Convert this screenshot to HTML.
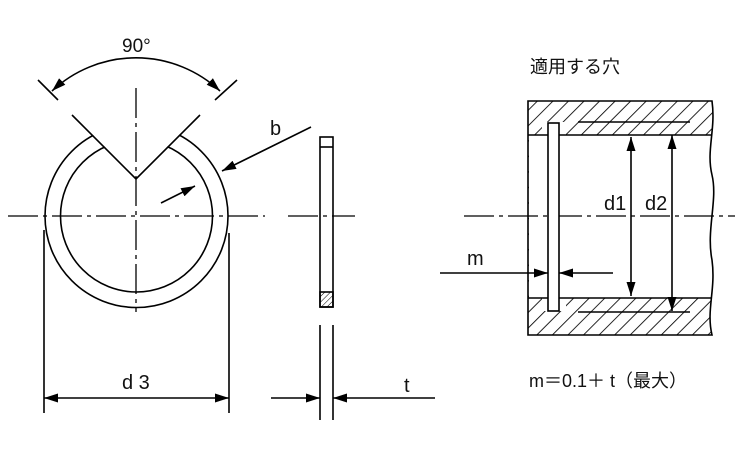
<!DOCTYPE html>
<html><head><meta charset="utf-8"><style>html,body{margin:0;padding:0;background:#fff}svg{display:block}text{font-family:"Liberation Sans","Noto Sans CJK JP",sans-serif;fill:#111}</style></head><body>
<svg width="750" height="450" viewBox="0 0 750 450" xmlns="http://www.w3.org/2000/svg">
<defs>
<marker id="a" viewBox="0 0 14 9" refX="14" refY="4.5" markerWidth="14" markerHeight="9" markerUnits="userSpaceOnUse" orient="auto-start-reverse"><path d="M0,0L14,4.5L0,9z" fill="#000"/></marker>
<pattern id="h" width="11" height="11" patternUnits="userSpaceOnUse" patternTransform="rotate(45)"><line x1="0" y1="0" x2="0" y2="11" stroke="#000" stroke-width="1.7"/></pattern>
<pattern id="h2" width="4" height="4" patternUnits="userSpaceOnUse" patternTransform="rotate(45)"><line x1="0" y1="0" x2="0" y2="4" stroke="#000" stroke-width="1"/></pattern>
</defs>
<g stroke="#000" stroke-width="1.6" fill="none">
<circle cx="136.5" cy="216" r="91.5"/>
<circle cx="136.5" cy="216" r="76"/>
<polygon points="136,178 30,72 242,72" fill="#fff" stroke="none"/>
<polyline points="72,115 136,179 200,115"/>
<line x1="38" y1="80" x2="58" y2="100"/><line x1="237" y1="80" x2="215" y2="100"/>
<path d="M52,91 A123,123 0 0 1 220,91" marker-start="url(#a)" marker-end="url(#a)"/>
<line x1="311" y1="127" x2="222" y2="171" marker-end="url(#a)"/>
<line x1="161" y1="203" x2="195" y2="186" marker-end="url(#a)"/>
<line x1="44" y1="230" x2="44" y2="413"/><line x1="229" y1="233" x2="229" y2="413"/>
<line x1="44" y1="398" x2="229" y2="398" marker-start="url(#a)" marker-end="url(#a)"/>
<rect x="320" y="137" width="13" height="170"/>
<line x1="320" y1="147" x2="333" y2="147"/>
<rect x="320" y="292" width="13" height="15" fill="url(#h2)"/>
<line x1="320" y1="325" x2="320" y2="420"/><line x1="333" y1="325" x2="333" y2="420"/>
<line x1="271" y1="398" x2="320" y2="398" marker-end="url(#a)"/>
<line x1="435" y1="398" x2="333" y2="398" marker-end="url(#a)"/>
<path d="M528,101 L712,101 C716,130 706,150 712,175 C718,200 706,230 712,260 C716,290 706,310 712,335 L528,335 Z" fill="url(#h)" stroke="none"/>
<rect x="529" y="135" width="190" height="163" fill="#fff" stroke="none"/>
<rect x="542" y="122" width="24" height="14" fill="#fff" stroke="none"/>
<rect x="542" y="297" width="24" height="14" fill="#fff" stroke="none"/>
<path d="M528,101 L712,101 C716,130 706,150 712,175 C718,200 706,230 712,260 C716,290 706,310 712,335 L528,335 Z"/>
<line x1="528" y1="135" x2="711" y2="135"/><line x1="528" y1="298" x2="712" y2="298"/>
<g stroke-width="1.3" stroke-dasharray="30,5,4,5">
<line x1="8" y1="216" x2="265" y2="216"/>
<line x1="136" y1="88" x2="136" y2="312"/>
<line x1="288" y1="216" x2="355" y2="216"/>
<line x1="464" y1="216" x2="735" y2="216"/>
</g>
<rect x="548" y="123" width="11" height="188" fill="#fff"/>
<line x1="578" y1="122" x2="690" y2="122"/><line x1="578" y1="312" x2="690" y2="312"/>
<line x1="631" y1="137" x2="631" y2="296" marker-start="url(#a)" marker-end="url(#a)"/>
<line x1="672" y1="135" x2="672" y2="311" marker-start="url(#a)" marker-end="url(#a)"/>
<line x1="440" y1="273" x2="548" y2="273" marker-end="url(#a)"/>
<line x1="613" y1="273" x2="559" y2="273" marker-end="url(#a)"/>
</g>
<text x="122" y="52" font-size="19">90°</text>
<text x="270" y="135" font-size="20">b</text>
<text x="122" y="389" font-size="20">d 3</text>
<text x="404" y="392" font-size="20">t</text>
<text x="530" y="73" font-size="18">適用する穴</text>
<text x="604" y="210" font-size="20">d1</text>
<text x="645" y="210" font-size="20">d2</text>
<text x="467" y="265" font-size="20">m</text>
<text x="529" y="387" font-size="18">m＝0.1＋ t（最大）</text>
</svg>
</body></html>
